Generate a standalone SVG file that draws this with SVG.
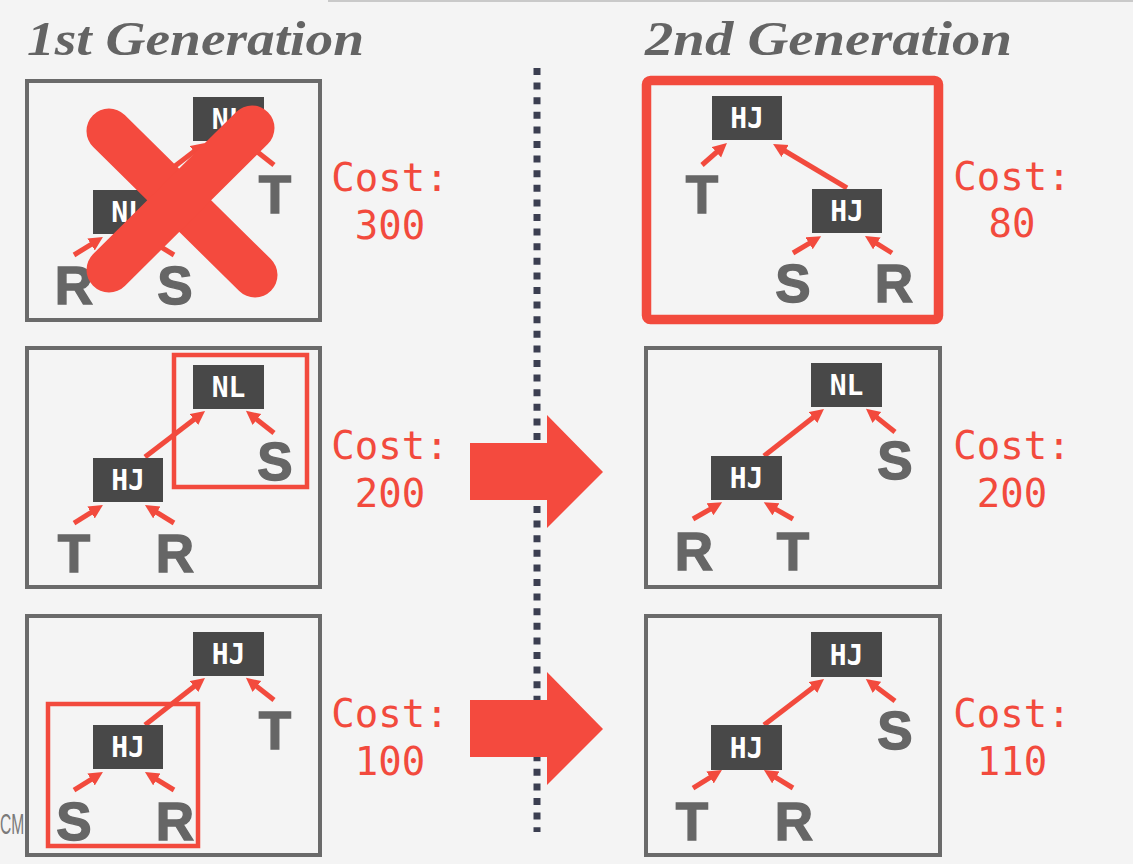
<svg xmlns="http://www.w3.org/2000/svg" width="1133" height="864" viewBox="0 0 1133 864">
<defs>
<marker id="ah" markerUnits="userSpaceOnUse" markerWidth="15" markerHeight="15" refX="5" refY="7" orient="auto">
<path d="M0,0 L14,7 L0,14 z" fill="#f24a3d"/>
</marker>
<style>
.frame{fill:none;stroke:#6a6a6a;stroke-width:4}
.sel{fill:none;stroke:#f24a3d;stroke-width:4.5}
.op{fill:#484848}
.opt{font-family:"DejaVu Sans Mono","Liberation Mono",monospace;font-size:28px;font-weight:bold;fill:#ffffff;text-anchor:middle}
.leaf{font-family:"Liberation Sans",Arial,sans-serif;font-size:53px;font-weight:bold;fill:#666666;stroke:#666666;stroke-width:1.4;text-anchor:middle}
.cost{font-family:"DejaVu Sans Mono","Liberation Mono",monospace;font-size:39px;fill:#f24a3d;text-anchor:middle}
.title{font-family:"Liberation Serif","Times New Roman",serif;font-style:italic;font-weight:bold;font-size:48px;fill:#646464}
.edge{stroke:#f24a3d;stroke-width:5;fill:none;marker-end:url(#ah)}
</style>
</defs>
<rect x="0" y="0" width="1133" height="864" fill="#f4f4f4"/>
<line x1="328" y1="1" x2="1133" y2="1" stroke="#c9c9c9" stroke-width="2"/>
<text class="title" x="27" y="55" textLength="337" lengthAdjust="spacingAndGlyphs">1st Generation</text>
<text class="title" x="645" y="55" textLength="367" lengthAdjust="spacingAndGlyphs">2nd Generation</text>
<text transform="translate(0,834) scale(0.52,1)" x="0" y="0" font-family="Liberation Sans,Arial,sans-serif" font-size="30" fill="#7a7a7a">CM</text>

<line x1="537" y1="68" x2="537" y2="832" stroke="#3b3e50" stroke-width="7" stroke-dasharray="7 7.6"/>

<g id="frames">
<rect class="frame" x="27" y="81" width="293" height="239"/>
<rect class="frame" x="27" y="348" width="293" height="239"/>
<rect class="frame" x="27" y="616" width="293" height="239"/>
<rect x="646.5" y="80.5" width="292" height="239" rx="4" fill="none" stroke="#f24a3d" stroke-width="9.5"/>
<rect class="frame" x="646" y="348" width="294" height="239"/>
<rect class="frame" x="646" y="616" width="294" height="239"/>
<rect class="sel" x="174" y="355" width="133" height="132"/>
<rect class="sel" x="48" y="704" width="150" height="142"/>
</g>

<g id="connectors">
<path class="edge" d="M74,255 L95.3,241.8"/>
<path class="edge" d="M174,255 L152.6,241.8"/>
<path class="edge" d="M145,189 L197.9,148.5"/>
<path class="edge" d="M274,165 L253,148.4"/>
<path class="edge" d="M74,523 L95.3,509.8"/>
<path class="edge" d="M174,523 L152.6,509.8"/>
<path class="edge" d="M145,457 L197.9,416.5"/>
<path class="edge" d="M274,433 L253,416.4"/>
<path class="edge" d="M74,790 L95.3,776.8"/>
<path class="edge" d="M174,790 L152.6,776.8"/>
<path class="edge" d="M145,725 L197.9,683.5"/>
<path class="edge" d="M274,700 L253,683.4"/>
<path class="edge" d="M702,165 L720.2,149"/>
<path class="edge" d="M847,188 L780.8,148.5"/>
<path class="edge" d="M793,253 L813.4,240.8"/>
<path class="edge" d="M892,253 L872.6,240.8"/>
<path class="edge" d="M693,519 L714.3,506.8"/>
<path class="edge" d="M793,519 L771.6,506.8"/>
<path class="edge" d="M764,456 L816.9,414.5"/>
<path class="edge" d="M895,432 L873,414.4"/>
<path class="edge" d="M693,788 L714.3,774.8"/>
<path class="edge" d="M793,788 L771.6,774.8"/>
<path class="edge" d="M764,725 L816.9,684.5"/>
<path class="edge" d="M895,701 L873,684.4"/>
</g>

<g id="g1-nl-top"><rect class="op" x="193" y="97" width="71" height="44"/><text class="opt" x="228.5" y="129">NL</text></g>
<g id="g1-nl-low"><rect class="op" x="93" y="190" width="70" height="44"/><text class="opt" x="128" y="222">NL</text></g>
<g id="g1-T"><text class="leaf" x="275" y="213">T</text></g>
<g id="g1-R"><text class="leaf" x="74" y="304">R</text></g>
<g id="g1-S"><text class="leaf" x="175" y="304">S</text></g>
<g id="g1-cross">
<line x1="109" y1="131" x2="255" y2="275" stroke="#f44a3e" stroke-width="45" stroke-linecap="round"/>
<line x1="252" y1="128" x2="109" y2="270" stroke="#f44a3e" stroke-width="45" stroke-linecap="round"/>
</g>

<g id="g2-nl"><rect class="op" x="193" y="365" width="71" height="44"/><text class="opt" x="228.5" y="397">NL</text></g>
<g id="g2-hj"><rect class="op" x="93" y="458" width="70" height="44"/><text class="opt" x="128" y="490">HJ</text></g>
<g id="g2-S"><text class="leaf" x="275" y="480">S</text></g>
<g id="g2-T"><text class="leaf" x="74" y="572">T</text></g>
<g id="g2-R"><text class="leaf" x="175" y="572">R</text></g>

<g id="g3-hj-top"><rect class="op" x="193" y="632" width="71" height="44"/><text class="opt" x="228.5" y="664">HJ</text></g>
<g id="g3-hj-low"><rect class="op" x="93" y="725" width="70" height="44"/><text class="opt" x="128" y="757">HJ</text></g>
<g id="g3-T"><text class="leaf" x="275" y="749">T</text></g>
<g id="g3-S"><text class="leaf" x="74" y="840">S</text></g>
<g id="g3-R"><text class="leaf" x="175" y="840">R</text></g>

<g id="g4-hj-top"><rect class="op" x="712" y="96" width="70" height="44"/><text class="opt" x="747" y="128">HJ</text></g>
<g id="g4-hj-low"><rect class="op" x="812" y="189" width="70" height="44"/><text class="opt" x="847" y="221">HJ</text></g>
<g id="g4-T"><text class="leaf" x="702" y="213">T</text></g>
<g id="g4-S"><text class="leaf" x="793" y="302">S</text></g>
<g id="g4-R"><text class="leaf" x="894" y="302">R</text></g>

<g id="g5-nl"><rect class="op" x="811" y="363" width="71" height="44"/><text class="opt" x="846.5" y="395">NL</text></g>
<g id="g5-hj"><rect class="op" x="711" y="456" width="71" height="44"/><text class="opt" x="746.5" y="488">HJ</text></g>
<g id="g5-S"><text class="leaf" x="895" y="479">S</text></g>
<g id="g5-R"><text class="leaf" x="694" y="570">R</text></g>
<g id="g5-T"><text class="leaf" x="793" y="570">T</text></g>

<g id="g6-hj-top"><rect class="op" x="811" y="632" width="71" height="45"/><text class="opt" x="846.5" y="664.5">HJ</text></g>
<g id="g6-hj-low"><rect class="op" x="711" y="725" width="71" height="45"/><text class="opt" x="746.5" y="757.5">HJ</text></g>
<g id="g6-S"><text class="leaf" x="895" y="749">S</text></g>
<g id="g6-T"><text class="leaf" x="692" y="840">T</text></g>
<g id="g6-R"><text class="leaf" x="794" y="840">R</text></g>

<g id="costs">
<text class="cost" x="390" y="191">Cost:</text><text class="cost" x="390" y="239">300</text>
<text class="cost" x="390" y="459">Cost:</text><text class="cost" x="390" y="507">200</text>
<text class="cost" x="390" y="727">Cost:</text><text class="cost" x="390" y="775">100</text>
<text class="cost" x="1012" y="190">Cost:</text><text class="cost" x="1012" y="237">80</text>
<text class="cost" x="1012" y="459">Cost:</text><text class="cost" x="1012" y="507">200</text>
<text class="cost" x="1012" y="727">Cost:</text><text class="cost" x="1012" y="775">110</text>
</g>

<g id="transitions">
<polygon points="470,443 547,443 547,415 603,472 547,528 547,500 470,500" fill="#f44a3e"/>
<polygon points="470,700 547,700 547,672 603,729 547,785 547,757 470,757" fill="#f44a3e"/>
</g>
</svg>
